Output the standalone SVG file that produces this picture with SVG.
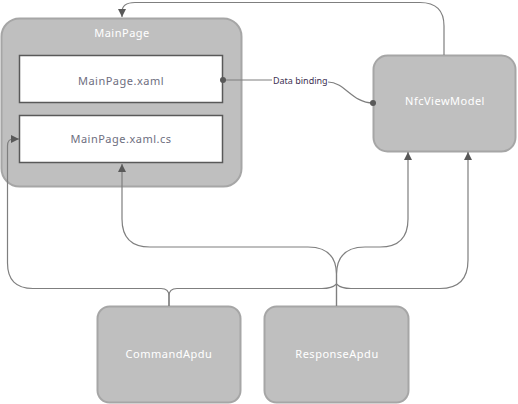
<svg xmlns="http://www.w3.org/2000/svg" width="518" height="404" viewBox="0 0 518 404">
<style>
.box{fill:#bfbfbf;stroke:#a6a6a6;stroke-width:2}
.inner{fill:#ffffff;stroke:#595959;stroke-width:1.5}
.wt{font-family:"Noto Sans","Open Sans",sans-serif;font-size:11px;fill:#ffffff;text-anchor:middle;letter-spacing:0.5px}
.gt{font-family:"Noto Sans","Open Sans",sans-serif;font-size:11px;fill:#6e6e80;text-anchor:middle;letter-spacing:0.5px}
.lbl{font-family:"Noto Sans","Open Sans",sans-serif;font-size:9px;fill:#403152}
.conn{fill:none;stroke:#7f7f7f;stroke-width:1.2}
</style>
<defs>
<marker id="arr" viewBox="0 0 10 10" refX="10" refY="5" markerWidth="8" markerHeight="8" markerUnits="userSpaceOnUse" orient="auto">
<path d="M0,0 L10,5 L0,10 z" fill="#595959"/>
</marker>
</defs>
<g id="MainPage">
<rect class="box" x="1.5" y="18.5" width="240" height="168" rx="18"/>
<text class="wt" x="122" y="37">MainPage</text>
</g>
<g id="MainPageXaml">
<rect class="inner" x="19.5" y="55.5" width="203" height="47"/>
<text class="gt" x="121" y="85">MainPage.xaml</text>
</g>
<g id="MainPageXamlCs">
<rect class="inner" x="19.5" y="115.5" width="203" height="47"/>
<text class="gt" x="121" y="143">MainPage.xaml.cs</text>
</g>
<g id="NfcViewModel">
<rect class="box" x="373.5" y="55.5" width="142" height="96" rx="14"/>
<text class="wt" x="445" y="105">NfcViewModel</text>
</g>
<g id="CommandApdu">
<rect class="box" x="97.5" y="306.5" width="143" height="96" rx="12"/>
<text class="wt" x="169" y="358">CommandApdu</text>
</g>
<g id="ResponseApdu">
<rect class="box" x="264.5" y="306.5" width="144" height="96" rx="12"/>
<text class="wt" x="337" y="358">ResponseApdu</text>
</g>
<g id="connectors">
<path class="conn" d="M444,55 V26 Q444,2.5 420,2.5 H135 Q122,2.5 122,12 V17" marker-end="url(#arr)"/>
<path class="conn" d="M223,80 H272"/>
<path class="conn" d="M328,82 C345,82 352,103 373,103"/>
<circle cx="223" cy="80" r="3" fill="#595959"/>
<circle cx="373" cy="103" r="3" fill="#595959"/>
<text class="lbl" x="273" y="84">Data binding</text>
<path class="conn" d="M336.5,306 V275 Q336.5,247 308,247 H150 Q122,247 122,219 V164" marker-end="url(#arr)"/>
<path class="conn" d="M336.5,306 V275 Q336.5,247 365,247 H380 Q408,247 408,219 V152" marker-end="url(#arr)"/>
<path class="conn" d="M169,306 V296 Q169,288.5 161,288.5 H33 Q7.5,288.5 7.5,263 V146 Q7.5,139 13,139 H19" marker-end="url(#arr)"/>
<path class="conn" d="M169,306 V296 Q169,288.5 177,288.5 H322 Q332,288.5 336.5,284 Q341,288.5 351,288.5 H440 Q468,288.5 468,260 V152" marker-end="url(#arr)"/>
</g>
</svg>
